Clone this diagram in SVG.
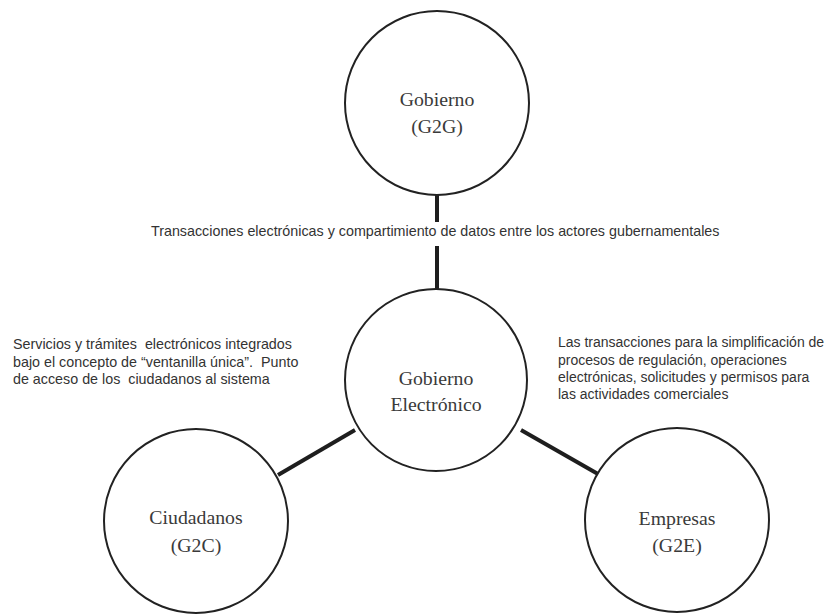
<svg xmlns="http://www.w3.org/2000/svg" width="827" height="614" viewBox="0 0 827 614">
  <style>
    .node circle { fill: #ffffff; stroke: #222222; stroke-width: 2; }
    .title { font-family: "Liberation Serif", "Times New Roman", serif; font-size: 19.8px; fill: #3a3a3a; text-anchor: middle; }
    .note { font-family: "Liberation Sans", Arial, sans-serif; font-size: 14.3px; fill: #333333; }
    .note.narrow { font-size: 14px; }
    .link { stroke: #1e1e1e; stroke-width: 4; fill: none; }
  </style>
  <rect width="827" height="614" fill="#ffffff"/>

  <!-- connectors between the hub and the three sectors -->
  <g id="connectors">
    <line class="link" x1="437" y1="195" x2="437" y2="222"/>
    <line class="link" x1="437" y1="246" x2="437" y2="289"/>
    <line class="link" x1="355" y1="430" x2="278" y2="475"/>
    <line class="link" x1="521" y1="430" x2="598" y2="474"/>
  </g>

  <g id="g2g" class="node">
    <circle cx="437" cy="103" r="92"/>
    <text class="title" x="437" y="106">Gobierno</text>
    <text class="title" x="437" y="133">(G2G)</text>
  </g>

  <g id="hub" class="node">
    <circle cx="436" cy="380" r="91"/>
    <text class="title" x="436" y="385">Gobierno</text>
    <text class="title" x="436" y="411">Electrónico</text>
  </g>

  <g id="g2c" class="node">
    <circle cx="196" cy="521" r="92"/>
    <text class="title" x="196" y="524">Ciudadanos</text>
    <text class="title" x="196" y="552">(G2C)</text>
  </g>

  <g id="g2e" class="node">
    <circle cx="677" cy="520" r="92"/>
    <text class="title" x="677" y="525">Empresas</text>
    <text class="title" x="677" y="552">(G2E)</text>
  </g>

  <!-- descriptive notes -->
  <g id="note-g2g">
    <text class="note" x="151" y="236">Transacciones electrónicas y compartimiento de datos entre los actores gubernamentales</text>
  </g>
  <g id="note-g2c">
    <text class="note" x="13" y="349" xml:space="preserve">Servicios y trámites  electrónicos integrados</text>
    <text class="note" x="13" y="367" xml:space="preserve">bajo el concepto de “ventanilla única”.  Punto</text>
    <text class="note" x="13" y="384" xml:space="preserve">de acceso de los  ciudadanos al sistema</text>
  </g>
  <g id="note-g2e">
    <text class="note narrow" x="558" y="347">Las transacciones para la simplificación de</text>
    <text class="note narrow" x="558" y="365">procesos de regulación, operaciones</text>
    <text class="note narrow" x="558" y="382">electrónicas, solicitudes y permisos para</text>
    <text class="note narrow" x="558" y="399">las actividades comerciales</text>
  </g>
</svg>
